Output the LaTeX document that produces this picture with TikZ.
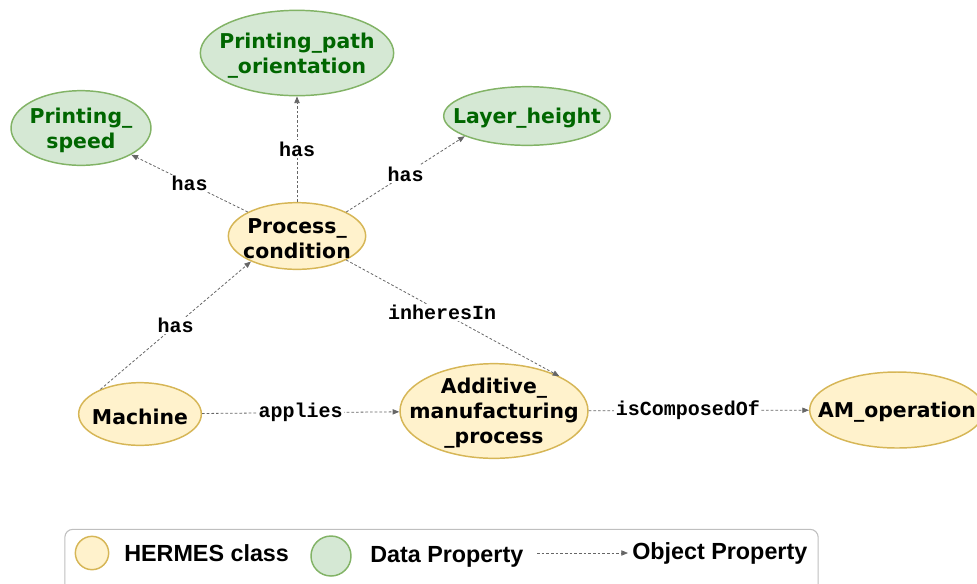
\documentclass[tikz,border=0pt]{standalone}
\usepackage{fontspec}
\setmainfont{DejaVu Sans}
\newfontfamily\relfont{Liberation Mono}
\newfontfamily\legfont{Liberation Sans}
\usepackage{xcolor}
\usetikzlibrary{arrows.meta,positioning,shapes.geometric}

\definecolor{clsfill}{HTML}{FFF2CC}
\definecolor{clsdraw}{HTML}{D6B656}
\definecolor{datfill}{HTML}{D5E8D4}
\definecolor{datdraw}{HTML}{82B366}
\definecolor{dattext}{HTML}{006600}
\definecolor{edgegray}{HTML}{666666}

\begin{document}
\begin{tikzpicture}[
  x=0.75pt,y=-0.75pt,
  ent/.style={ellipse,draw,line width=1.1pt,inner sep=0pt},
  cls/.style={ent,fill=clsfill,draw=clsdraw},
  dat/.style={ent,fill=datfill,draw=datdraw},
  txt/.style={align=center,inner sep=0pt,yshift=-1.8pt,
              font=\fontsize{15.3}{18.75}\selectfont\bfseries},
  dtxt/.style={txt,text=dattext},
  rel/.style={-{Triangle[length=5pt,width=4pt]},draw=edgegray,line width=0.6pt,
              dash pattern=on 2pt off 1.5pt},
  lbl/.style={fill=white,inner sep=1pt,
              font=\fontsize{15}{17}\selectfont\relfont\bfseries},
  leg/.style={inner sep=0pt,font=\fontsize{17.5}{20}\selectfont\legfont\bfseries}
]
\useasboundingbox (0,0) rectangle (977,583);

% data properties
\node[dat,minimum width=145pt,minimum height=64pt,
      label={[dtxt]center:Printing\_path\\\_orientation}] (path) at (297,53) {};
\node[dat,minimum width=105pt,minimum height=56pt,
      label={[dtxt]center:Printing\_\\speed}] (speed) at (81,128) {};
\node[dat,minimum width=125pt,minimum height=44pt,
      label={[dtxt]center:Layer\_height}] (layer) at (527,116) {};

% classes
\node[cls,minimum width=103pt,minimum height=50pt,
      label={[txt]center:Process\_\\condition}] (cond) at (297,236) {};
\node[cls,minimum width=92pt,minimum height=47pt,
      label={[txt]center:Machine}] (machine) at (140,414) {};
\node[cls,minimum width=141pt,minimum height=71pt,
      label={[txt]center:Additive\_\\manufacturing\\\_process}] (amp) at (494,411) {};
\node[cls,minimum width=131pt,minimum height=57pt,
      label={[txt]center:AM\_operation}] (amop) at (897,410) {};

% relations
\draw[rel] (cond.154) -- node[lbl]{has} (speed.332);
\draw[rel] (cond.north) -- node[lbl]{has} (path.south);
\draw[rel] (cond.26) -- node[lbl]{has} (layer.198);
\draw[rel] (machine.148) -- node[lbl]{has} (cond.209);
\draw[rel] (cond.334) -- node[lbl,pos=0.45]{inheresIn} (amp.28);
\draw[rel] (machine) -- node[lbl]{applies} (amp);
\draw[rel] (amp) -- node[lbl,pos=0.45]{isComposedOf} (amop);

% legend
\node[draw=black!25,rounded corners=6pt,line width=0.8pt,
      minimum width=565pt,minimum height=52pt] (legend) at (441.5,564) {};
\node[cls,circle,minimum size=25pt] (legcls) at (92,553) {};
\node[leg,anchor=west] (legclstxt) at (124,553) {HERMES class};
\node[dat,circle,minimum size=30pt] (legdat) at (331,556) {};
\node[leg,anchor=west] (legdattxt) at (370,557) {Data Property};
\coordinate (legtail) at (537,553);
\node[leg,anchor=west] (legobj) at (632,553) {Object Property};
\draw[rel,shorten >=3pt] (legtail) -- (legobj.west);
\end{tikzpicture}
\end{document}
